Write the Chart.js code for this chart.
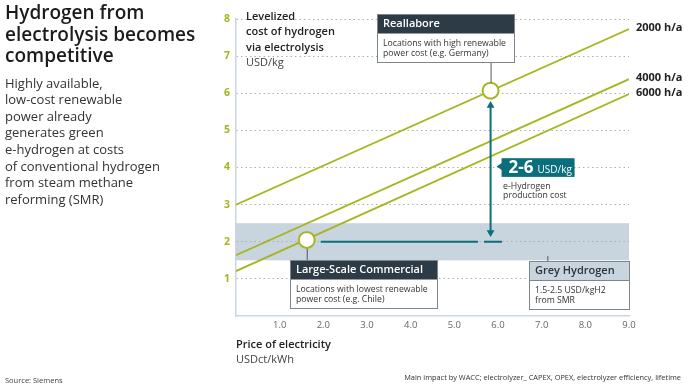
<!DOCTYPE html>
<html lang="en">
  <head>
    <meta charset="UTF-8" />
    <title>Hydrogen from electrolysis</title>
    <script src="https://cdn.jsdelivr.net/npm/chart.js"></script>
    <style>
      html, body { margin: 0; padding: 0; background: #fff; }
      #wrap { width: 689px; height: 388px; }
    </style>
  </head>
  <body>
    <div id="wrap"><canvas id="h2Chart" width="689" height="388"></canvas></div>
    <script>
      // data
      const xTicks = [1, 2, 3, 4, 5, 6, 7, 8, 9];
      const hoursLabels = ["2000 h/a", "4000 h/a", "6000 h/a"];
      const priceRange = [0, 9];
      const costAtStart = [3.0, 1.64, 1.21];
      const costAtEnd = [7.73, 6.38, 5.98];
      const markerX = [5.83, 1.62];
      const markerY = [6.07, 2.05];
      const greyBand = [1.5, 2.5];
      const refLineX = [1.94, 5.54, 5.61, 5.68, 6.09];
      const refLineY = [2, 2, null, 2, 2];
      const arrowX = [5.83, 5.83];
      const arrowY = [2.25, 5.67];

      const LIME = "#a7b520";
      const TEAL = "#0b6e7b";
      const DARK = "#2c3b46";
      const FONT = '"Open Sans", sans-serif';

      const lineSets = hoursLabels.map((lab, i) => ({
        label: lab,
        data: [
          { x: priceRange[0], y: costAtStart[i] },
          { x: priceRange[1], y: costAtEnd[i] },
        ],
        borderColor: LIME,
        borderWidth: 1.8,
        pointRadius: 0,
      }));

      function txt(ctx, s, x, y, font, color, align) {
        ctx.font = font;
        ctx.fillStyle = color;
        ctx.textAlign = align || "left";
        ctx.textBaseline = "alphabetic";
        ctx.fillText(s, x, y);
      }

      const boxes = [
        { title: "Reallabore", lines: ["Locations with high renewable", "power cost (e.g. Germany)"], x0: 3.22, x1: 6.37, top: 8.13, dark: true },
        { title: "Large-Scale Commercial", lines: ["Locations with lowest renewable", "power cost (e.g. Chile)"], x0: 1.23, x1: 4.6, top: 1.51, dark: true },
        { title: "Grey Hydrogen", lines: ["1.5-2.5 USD/kgH2", "from SMR"], x0: 6.71, x1: 9.0, top: 1.48, dark: false },
      ];

      const decor = {
        id: "decor",
        beforeDraw(chart) {
          const { ctx, scales, chartArea } = chart;
          const yTop = scales.y.getPixelForValue(greyBand[1]);
          const yBot = scales.y.getPixelForValue(greyBand[0]);
          ctx.save();
          ctx.fillStyle = "#c8d5df";
          ctx.fillRect(chartArea.left, yTop, chartArea.right - chartArea.left, yBot - yTop);
          ctx.restore();
        },
        afterDraw(chart) {
          const { ctx, scales, chartArea } = chart;
          const X = (v) => scales.x.getPixelForValue(v);
          const Y = (v) => scales.y.getPixelForValue(v);
          ctx.save();

          // left text block
          ["Hydrogen from", "electrolysis becomes", "competitive"].forEach((s, i) =>
            txt(ctx, s, 5, 19 + i * 21.5, "600 19px " + FONT, "#1b1b1b")
          );
          [
            "Highly available,",
            "low-cost renewable",
            "power already",
            "generates green",
            "e-hydrogen at costs",
            "of conventional hydrogen",
            "from steam methane",
            "reforming (SMR)",
          ].forEach((s, i) => txt(ctx, s, 5, 87.5 + i * 16.6, "13px " + FONT, "#333"));

          // axis titles
          ["Levelized", "cost of hydrogen", "via electrolysis"].forEach((s, i) =>
            txt(ctx, s, 246, 20 + i * 15.3, "600 11px " + FONT, "#222")
          );
          txt(ctx, "USD/kg", 246, 65.9, "11px " + FONT, "#444");
          txt(ctx, "Price of electricity", 236, 347.7, "600 11px " + FONT, "#222");
          txt(ctx, "USDct/kWh", 236, 362.7, "11px " + FONT, "#444");

          // footers
          txt(ctx, "Source: Siemens", 5, 383, "7.5px " + FONT, "#444");
          txt(ctx, "Main impact by WACC; electrolyzer_ CAPEX, OPEX, electrolyzer efficiency, lifetime", 681, 380, "7.4px " + FONT, "#333", "right");

          // line end labels
          chart.data.datasets.forEach((ds, i) => {
            if (!hoursLabels.includes(ds.label)) return;
            const meta = chart.getDatasetMeta(i);
            const last = meta.data[meta.data.length - 1];
            ctx.font = "bold 11px " + FONT;
            ctx.fillStyle = "#222";
            ctx.textAlign = "left";
            ctx.textBaseline = "middle";
            ctx.fillText(ds.label, chartArea.right + 7, last.y - 1);
          });

          // connectors
          ctx.strokeStyle = "#555";
          ctx.lineWidth = 1;
          ctx.beginPath();
          ctx.moveTo(X(markerX[0]) + 0.5, Y(boxes[0].top) + 48);
          ctx.lineTo(X(markerX[0]) + 0.5, Y(markerY[0]) - 8);
          ctx.moveTo(X(markerX[1]) + 0.5, Y(markerY[1]) + 9);
          ctx.lineTo(X(markerX[1]) + 0.5, Y(boxes[1].top));
          ctx.moveTo(X(7.13) + 0.5, Y(boxes[2].top) - 5);
          ctx.lineTo(X(7.13) + 0.5, Y(boxes[2].top));
          ctx.stroke();

          // annotation boxes
          boxes.forEach((b) => {
            const l = Math.round(X(b.x0)) + 0.5;
            const r = Math.round(X(b.x1)) + 0.5;
            const t = Math.round(Y(b.top)) + 0.5;
            ctx.fillStyle = "#fff";
            ctx.fillRect(l, t, r - l, 48);
            ctx.fillStyle = b.dark ? DARK : "#c9d5de";
            ctx.fillRect(l, t, r - l, 19);
            ctx.strokeStyle = "#7d868d";
            ctx.strokeRect(l, t, r - l, 48);
            if (!b.dark) {
              ctx.beginPath();
              ctx.moveTo(l, t + 19);
              ctx.lineTo(r, t + 19);
              ctx.stroke();
            }
            ctx.textBaseline = "middle";
            ctx.textAlign = "left";
            ctx.font = "600 11px " + FONT;
            ctx.fillStyle = b.dark ? "#fff" : "#2a343c";
            ctx.fillText(b.title, l + 5.5, t + 9.5);
            ctx.font = "8.7px " + FONT;
            ctx.fillStyle = "#333";
            b.lines.forEach((s, i) => ctx.fillText(s, l + 5.5, t + 29 + i * 9.7));
          });

          // 2-6 label
          const ax = X(arrowX[0]);
          const ly = Y(4);
          const bl = ax + 11;
          ctx.fillStyle = TEAL;
          ctx.fillRect(bl, ly - 9.3, 73, 18.7);
          ctx.beginPath();
          ctx.moveTo(bl - 5, ly - 1);
          ctx.lineTo(bl + 1, ly - 5);
          ctx.lineTo(bl + 1, ly + 3);
          ctx.closePath();
          ctx.fill();
          txt(ctx, "2-6", bl + 7, ly + 5.5, "bold 17px " + FONT, "#fff");
          txt(ctx, "USD/kg", bl + 36, ly + 5, "10px " + FONT, "#fff");
          txt(ctx, "e-Hydrogen", bl + 1.5, ly + 21, "8.7px " + FONT, "#333");
          txt(ctx, "production cost", bl + 1.5, ly + 30.7, "8.7px " + FONT, "#333");

          ctx.restore();
        },
      };

      const ctx = document.getElementById("h2Chart").getContext("2d");
      new Chart(ctx, {
        type: "line",
        data: {
          datasets: [
            {
              label: "markers",
              data: markerX.map((x, i) => ({ x: x, y: markerY[i] })),
              showLine: false,
              pointRadius: 8,
              pointBackgroundColor: "#fff",
              pointBorderColor: LIME,
              pointBorderWidth: 2,
            },
            {
              label: "arrow",
              data: arrowX.map((x, i) => ({ x: x, y: arrowY[i] })),
              borderColor: TEAL,
              borderWidth: 2,
              pointStyle: "triangle",
              pointRadius: 4.5,
              pointRotation: [180, 0],
              pointBackgroundColor: TEAL,
              pointBorderWidth: 0,
            },
            {
              label: "grey level",
              data: refLineX.map((x, i) => ({ x: x, y: refLineY[i] })),
              borderColor: TEAL,
              borderWidth: 2,
              pointRadius: 0,
              spanGaps: false,
            },
            ...lineSets,
          ],
        },
        options: {
          responsive: false,
          animation: false,
          layout: { padding: { left: 216, right: 60, top: 19, bottom: 52 } },
          plugins: { legend: { display: false }, tooltip: { enabled: false } },
          scales: {
            x: {
              type: "linear",
              min: 0,
              max: 9,
              afterFit: (s) => { s.height = 20; },
              afterBuildTicks: (s) => { s.ticks = [0, ...xTicks].map((v) => ({ value: v })); },
              ticks: {
                callback: (v) => (v === 0 ? "" : v.toFixed(1)),
                color: "#666",
                font: { size: 9.5, family: FONT },
                padding: 4,
                maxRotation: 0,
              },
              grid: { display: false, drawTicks: false },
              border: { color: "#c9d6e2", width: 1.5 },
            },
            y: {
              min: 0,
              max: 8,
              afterFit: (s) => { s.width = 20; },
              ticks: {
                stepSize: 1,
                callback: (v) => (v === 0 ? "" : v),
                color: LIME,
                font: { size: 10.5, weight: "bold", family: FONT },
                padding: 6,
              },
              grid: { drawTicks: false, color: (c) => (c.tick.value === 0 ? "rgba(0,0,0,0)" : "#a9b0b6"), lineWidth: 1 },
              border: { color: "#c9d6e2", width: 1.5, dash: [1.5, 3] },
            },
          },
        },
        plugins: [decor],
      });
    </script>
  </body>
</html>
